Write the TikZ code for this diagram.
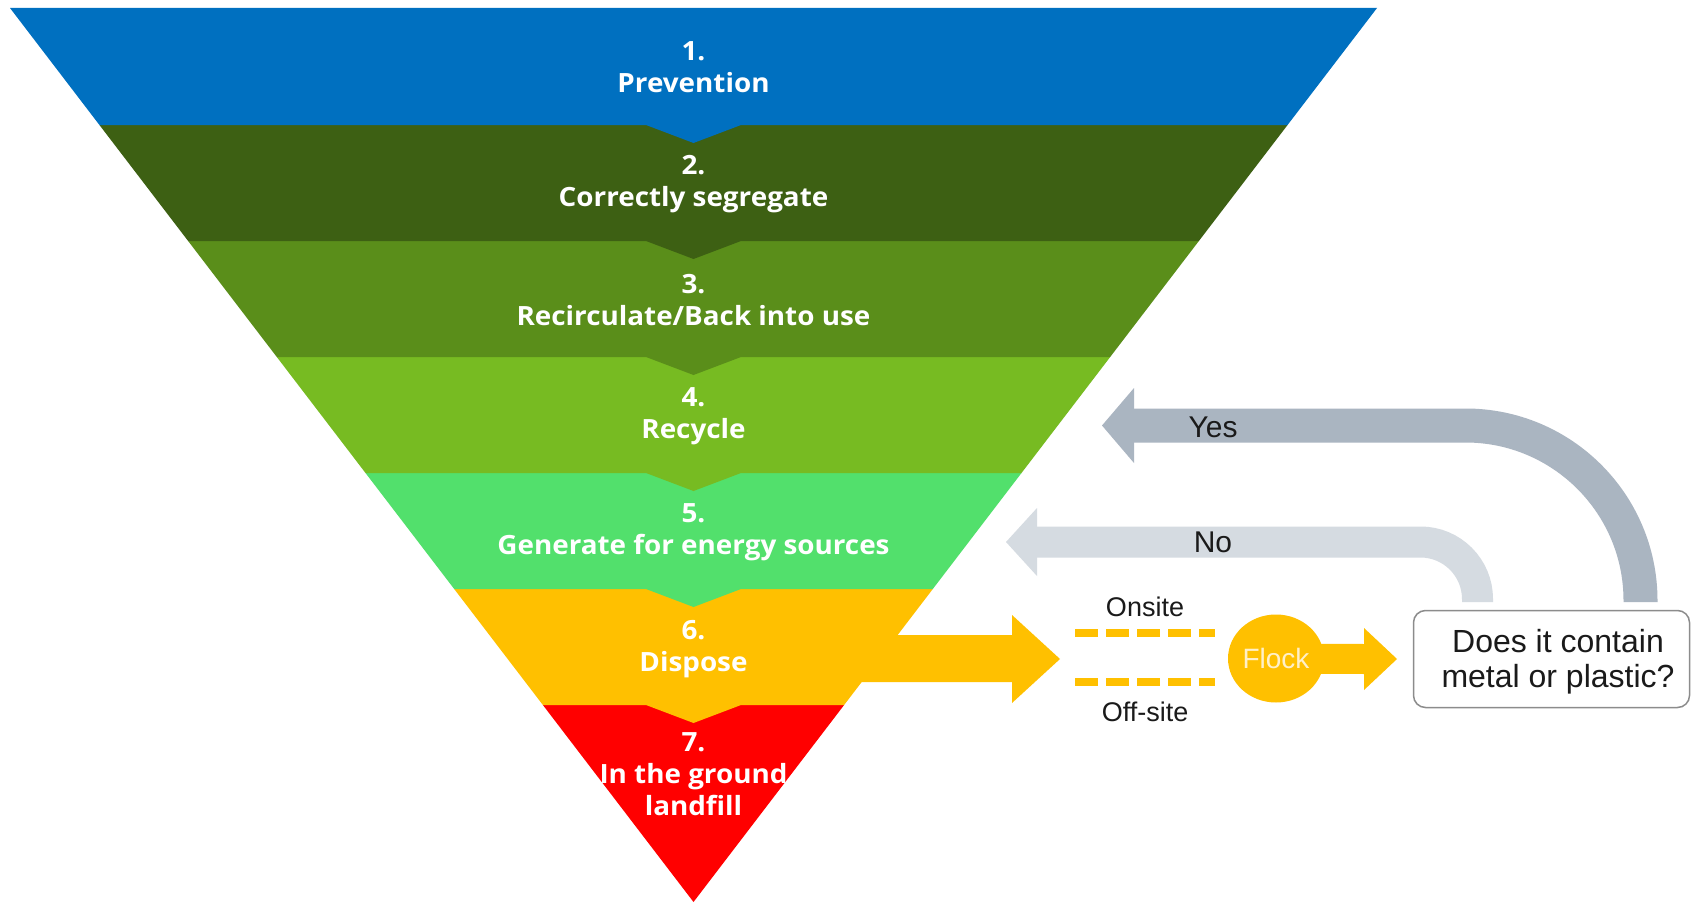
\documentclass[tikz,border=0pt]{standalone}
\usepackage{fontspec}
\setmainfont{Liberation Sans}
\newfontfamily\bandfont[FakeStretch=1.05]{Open Sans}
\usetikzlibrary{calc,shapes.geometric}
\definecolor{c1}{HTML}{0070C0}
\definecolor{c2}{HTML}{3D6013}
\definecolor{c3}{HTML}{5A8E1A}
\definecolor{c4}{HTML}{77BB22}
\definecolor{c5}{HTML}{52E06C}
\definecolor{c6}{HTML}{FFC000}
\definecolor{c7}{HTML}{FF0000}
\definecolor{yesgray}{HTML}{AAB5C1}
\definecolor{nogray}{HTML}{D5DBE1}
\definecolor{boxline}{HTML}{8C8C8C}
\definecolor{flowink}{HTML}{1A1A1A}
\definecolor{flockink}{HTML}{FFF0C8}
\begin{document}
\begin{tikzpicture}[x=1pt,y=-1pt,
  bandtext/.style={text=white, font=\bandfont\bfseries\fontsize{26.5}{32}\selectfont, align=center, inner sep=0pt},
  flowtext/.style={text=flowink, font=\fontsize{27}{30}\selectfont, inner sep=0pt},
  answertext/.style={text=flowink, font=\fontsize{30}{34}\selectfont, inner sep=0pt},
  yesband/.style={draw=yesgray, line width=34pt, rounded corners=175pt},
  noband/.style={draw=nogray, line width=31pt, rounded corners=57pt},
  dashline/.style={draw=c6, line width=8pt, dash pattern=on 23pt off 8pt},
  qbox/.style={draw=boxline, line width=1.5pt, fill=white, rounded corners=12pt,
    minimum width=276pt, minimum height=97pt, inner sep=0pt},
  qtext/.style={align=center, inner sep=0pt, text=flowink, font=\fontsize{32}{35}\selectfont},
  flockshape/.style={ellipse, fill=c6, minimum width=96pt, minimum height=88pt, inner sep=0pt},
  flocktext/.style={text=flockink, font=\fontsize{28}{30}\selectfont, inner sep=0pt}]

\useasboundingbox (0,0) rectangle (1692,907);
\fill[white] (0,0) rectangle (1692,907);

% inverted pyramid
\begin{scope}
  \clip (10,8) -- (1377,8) -- (693.5,902) -- cycle;
  \fill[c7] (0,705) rectangle (1692,907);
  \foreach \t/\b/\c in {589/705/c6, 473/589/c5, 357/473/c4, 241/357/c3, 125/241/c2, 8/125/c1}{
    \fill[\c] (0,\t) -- (1692,\t) -- (1692,\b) -- (741,\b) -- (693.5,\b+18) -- (646,\b) -- (0,\b) -- cycle;
  }
\end{scope}

% big yellow arrow out of "Dispose"
\coordinate (disptip) at (1060,659);
\fill[c6] (800,635) -- (1012,635) -- (1012,615) -- (disptip) -- (1012,703) -- (1012,682) -- (800,682) -- cycle;

% band labels
\node[bandtext] (n1) at (693.5,67) {1.\\Prevention};
\node[bandtext] (n2) at (693.5,184) {2.\\Correctly segregate};
\node[bandtext] (n3) at (693.5,300) {3.\\Recirculate/Back into use};
\node[bandtext] (n4) at (693.5,416) {4.\\Recycle};
\node[bandtext] (n5) at (693.5,532) {5.\\Generate for energy sources};
\node[bandtext] (n6) at (693.5,649) {6.\\Dispose};
\node[bandtext] (n7) at (693.5,774) {7.\\In the ground\\landfill};

% onsite / off-site dashes
\coordinate (onA) at (1075,633);
\coordinate (onB) at (1215,633);
\coordinate (offA) at (1075,682);
\coordinate (offB) at (1215,682);
\draw[dashline] (onA) -- (onB);
\draw[dashline] (offA) -- (offB);
\node[flowtext] (onsite) at (1145,607) {Onsite};
\node[flowtext] (offsite) at (1145,712) {Off-site};

% Flock
\node[flockshape] (flock) at (1276,658.5) {};
\coordinate (flocktip) at (1397,659);
\fill[c6] (flock.center) ++(0,-15) -- (1364,644) -- (1364,628) -- (flocktip) -- (1364,690) -- (1364,674) -- ($(flock.center)+(0,15)$) -- cycle;
\node[flocktext] (flocklabel) at (flock.center) {Flock};

% question box
\node[qbox] (box) at (1551.5,659) {};
\node[qtext] (question) at (1558,662) {Does it contain\\metal or plastic?};

% Yes arrow
\coordinate (yesstart) at (1640.5,602);
\coordinate (yescorner) at (1640.5,425.5);
\coordinate (yesbase) at (1133,425.5);
\coordinate (yestip) at (1102,425.5);
\draw[yesband] (yesstart) -- (yescorner) -- (yesbase);
\fill[yesgray] (1134,388) -- (1134,463) -- (yestip) -- cycle;
\node[answertext] (yes) at (1213,427) {Yes};

% No arrow
\coordinate (nostart) at (1477.5,602);
\coordinate (nocorner) at (1477.5,542);
\coordinate (nobase) at (1036,542);
\coordinate (notip) at (1006,542);
\draw[noband] (nostart) -- (nocorner) -- (nobase);
\fill[nogray] (1037,508) -- (1037,576) -- (notip) -- cycle;
\node[answertext] (no) at (1213,542) {No};
\end{tikzpicture}
\end{document}
